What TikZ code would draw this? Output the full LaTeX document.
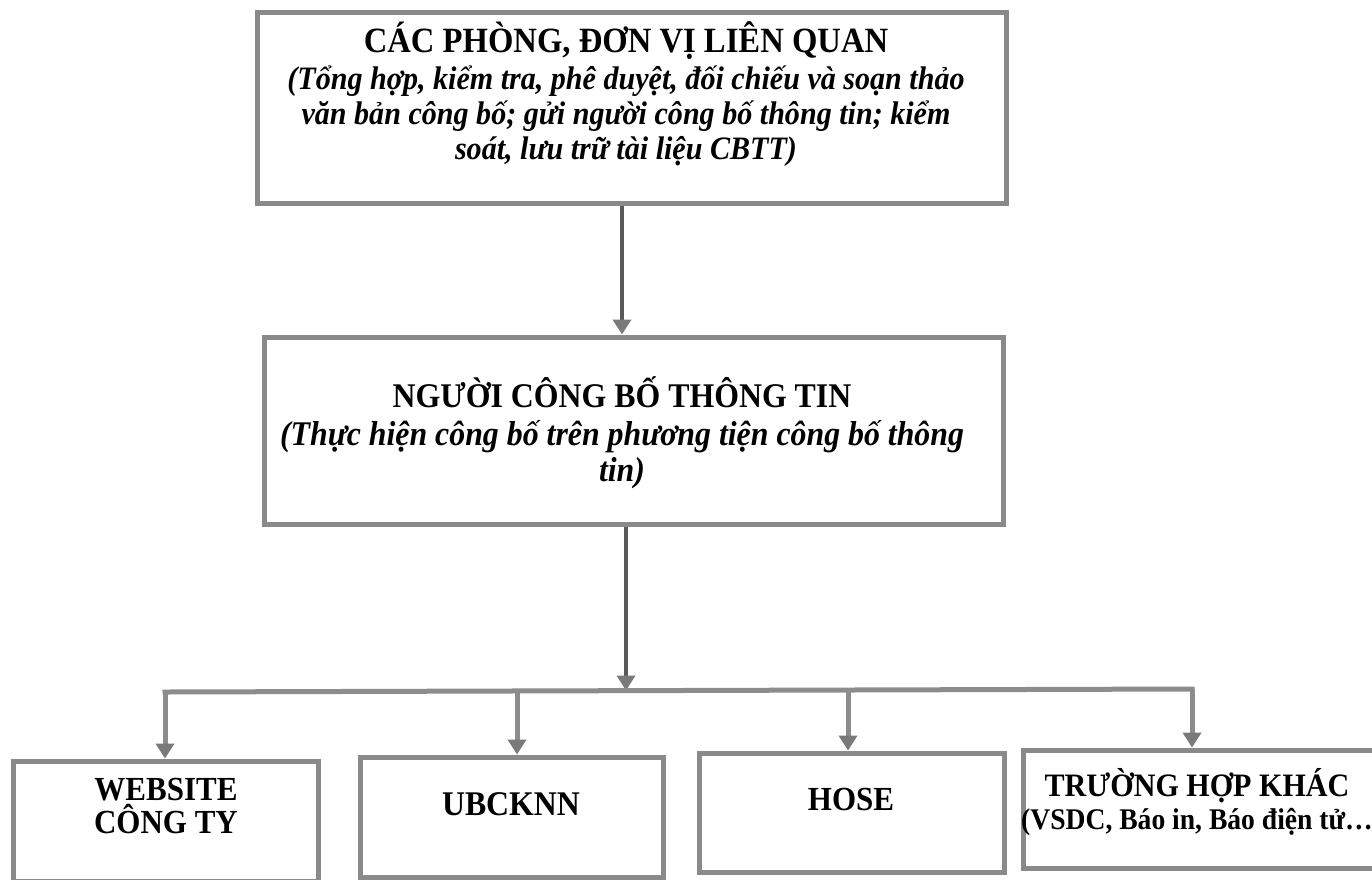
\documentclass[tikz,border=0pt]{standalone}
\usepackage{fontspec}
\setmainfont{Liberation Serif}[FakeStretch=0.92]
\usetikzlibrary{arrows.meta}
\definecolor{boxgray}{HTML}{8A8A8A}
\definecolor{linegray}{HTML}{5A5A5A}
\definecolor{busgray}{HTML}{8C8C8C}
\definecolor{tipgray}{HTML}{7A7A7A}
\begin{document}
\begin{tikzpicture}[x=1pt,y=-1pt,
  box/.style={draw=boxgray, line width=5pt, fill=white, rectangle, inner sep=0pt},
  boxtext/.style={align=center, inner sep=0pt, text=black},
  toptxtstyle/.style={font=\fontsize{32.7}{35}\selectfont\bfseries},
  midtxtstyle/.style={font=\fontsize{34.6}{36}\selectfont\bfseries},
  smalltxt/.style={font=\fontsize{33.7}{33}\selectfont\bfseries},
  conn/.style={draw=linegray, line width=4.5pt},
  busline/.style={draw=busgray, line width=5pt},
  arr/.style={-{Triangle[width=18pt,length=15pt,fill=tipgray,color=tipgray]}}
]
\useasboundingbox (0,0) rectangle (1372,879);
\fill[white] (0,0) rectangle (1372,879);

% boxes
\node[box, minimum width=749pt, minimum height=191pt] (top) at (631.5,107.5) {};
\node[box, minimum width=739pt, minimum height=187pt] (mid) at (633.5,430.5) {};
\node[box, minimum width=305pt, minimum height=120pt] (b1) at (165.5,821) {};
\node[box, minimum width=303pt, minimum height=120pt] (b2) at (511.5,817) {};
\node[box, minimum width=305pt, minimum height=119pt] (b3) at (851.5,812.5) {};
\node[box, minimum width=360pt, minimum height=118pt] (b4) at (1203,809) {};

% texts
\node[boxtext, toptxtstyle] (toptxt) at (626,94) {{\fontsize{35.5}{38}\selectfont CÁC PHÒNG, ĐƠN VỊ LIÊN QUAN}\\[2pt]
\itshape (Tổng hợp, kiểm tra, phê duyệt, đối chiếu và soạn thảo\\
\itshape văn bản công bố; gửi người công bố thông tin; kiểm\\
\itshape soát, lưu trữ tài liệu CBTT)};
\node[boxtext, midtxtstyle] (midtxt) at (622,433) {NGƯỜI CÔNG BỐ THÔNG TIN\\[2pt]
\itshape (Thực hiện công bố trên phương tiện công bố thông\\
\itshape tin)};
\node[boxtext, smalltxt] (b1txt) at (166,806) {WEBSITE\\CÔNG TY};
\node[boxtext, smalltxt] (b2txt) at (511,804) {{\fontsize{34.6}{33}\selectfont UBCKNN}};
\node[boxtext, smalltxt] (b3txt) at (851,799) {HOSE};
\node[boxtext, smalltxt] (b4txt) at (1197,802) {{\fontsize{32.7}{33}\selectfont TRƯỜNG HỢP KHÁC}\\{\fontsize{30}{33}\selectfont (VSDC, Báo in, Báo điện tử…}};

% connectors
\coordinate (c1) at (622,0);
\coordinate (c2) at (626,0);
\coordinate (busL) at (165,692);
\coordinate (busR) at (1192,689);
\coordinate (busM) at (626,690.5);
\draw[conn, arr] (top.south -| c1) -- (mid.north -| c1);
\draw[conn, arr] (mid.south -| c2) -- (busM);
\draw[busline, line cap=rect] (busL) -- (busR);
\draw[busline, arr] (busL) -- (b1.north -| busL);
\draw[busline, arr] (517,691) -- (b2.north -| 517,0);
\draw[busline, arr] (848,690) -- (b3.north -| 848,0);
\draw[busline, arr] (busR) -- (b4.north -| busR);
\end{tikzpicture}
\end{document}
